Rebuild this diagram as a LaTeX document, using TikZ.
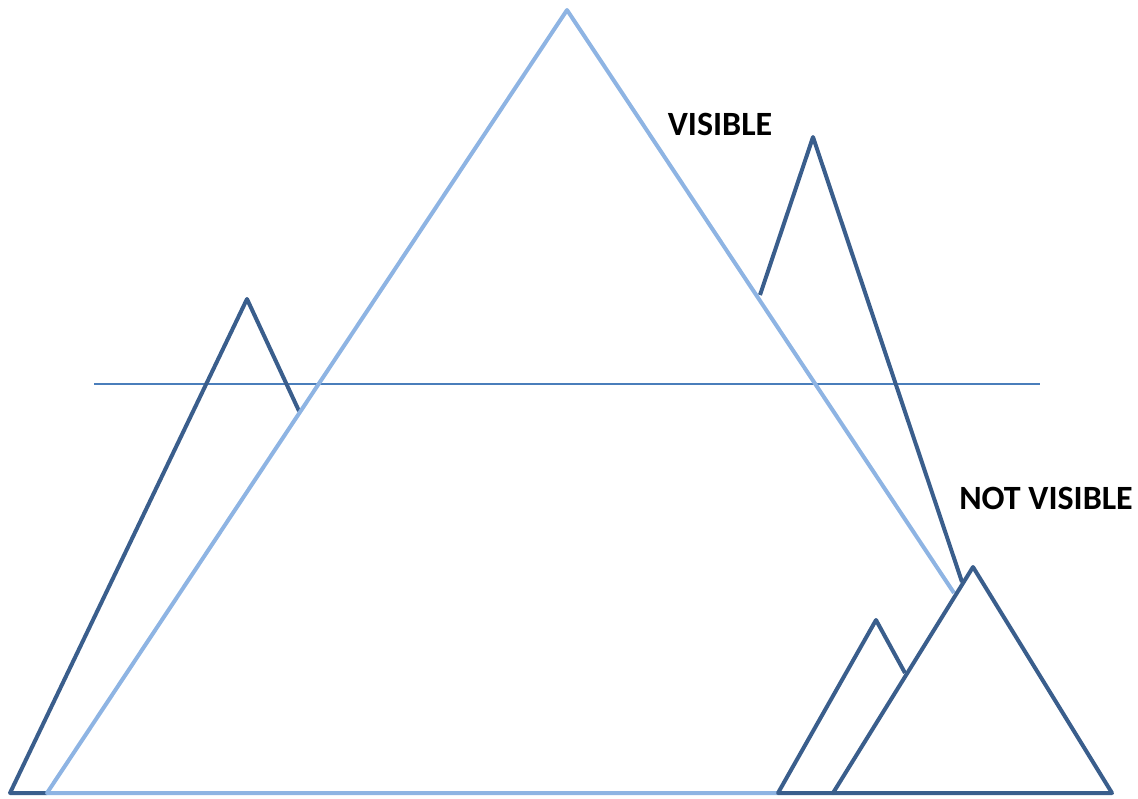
\documentclass[tikz,border=0pt]{standalone}
\usepackage{fontspec}
\setmainfont{Carlito}
\usepackage{xcolor}
\usetikzlibrary{calc, positioning}
\definecolor{peakdark}{HTML}{3A5E8C}
\definecolor{peaklight}{HTML}{8EB4E3}
\definecolor{sightline}{HTML}{4A7EBB}

\begin{document}
\begin{tikzpicture}[x=0.5pt, y=-0.5pt, line join=round,
    dark/.style={peakdark, line width=2pt},
    light/.style={peaklight, line width=2pt},
    tag/.style={font=\fontsize{17}{19}\selectfont\bfseries}]
  \useasboundingbox (0,0) rectangle (1138,798);
  % --- Sight line ---
  \draw[sightline, line width=0.75pt] (94,384) -- (1040,384);
  % --- Left peak (partly hidden) ---
  \draw[dark] (299,411) -- (247,299) -- (10,793) -- (47,793);
  % --- Tall right peak (partly hidden) ---
  \draw[dark] (760,295) -- (813,137) -- (962,582);
  % --- Big peak ---
  \draw[light] (954,593) -- (567,10) -- (47,793) -- (778,793);
  % --- Small front peak ---
  \draw[dark] (905,673) -- (876,620) -- (778,793) -- (833,793);
  % --- Front peak ---
  \draw[dark] (833,793) -- (973,567) -- (1112,793) -- cycle;
  % Labels
  \node[tag] (visible) at (720,124) {VISIBLE};
  \node[tag] (notvisible) at (1046,498) {NOT VISIBLE};
\end{tikzpicture}
\end{document}
